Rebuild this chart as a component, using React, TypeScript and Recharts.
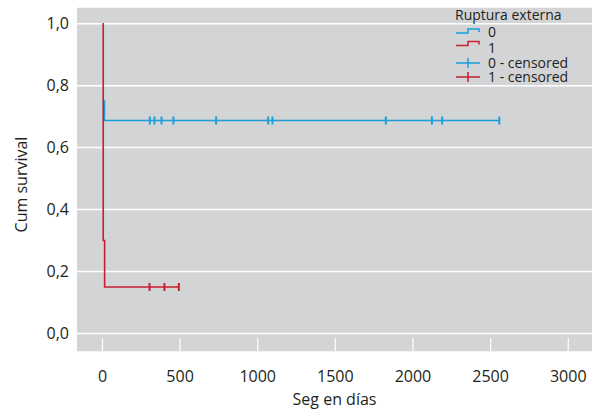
import { CartesianGrid, ComposedChart, Legend, Line, Scatter, XAxis, YAxis } from 'recharts'

const BLUE = '#1a9fdb'
const RED = '#c6202f'
const TEXT = '#231f20'
const FONT = '"Open Sans", sans-serif'

// Kaplan-Meier steps, Ruptura externa = 0
const g0Days = [0, 13, 2556]
const g0Surv = [0.75, 0.6875, 0.6875]
const g0Censored = [305, 335, 380, 457, 732, 1067, 1095, 1825, 2122, 2188, 2556]

// Ruptura externa = 1
const g1Days = [0, 5, 14, 492]
const g1Surv = [1, 0.3, 0.15, 0.15]
const g1Censored = [303, 399, 492]

const xTicks = [0, 500, 1000, 1500, 2000, 2500, 3000]
const yTicks = [0, 0.2, 0.4, 0.6, 0.8, 1.0]

const toSteps = (days: number[], surv: number[]) => days.map((t, i) => ({ t, s: surv[i] }))
const g0Line = toSteps(g0Days, g0Surv)
const g1Line = toSteps(g1Days, g1Surv)
const g0Cens = g0Censored.map((t) => ({ t, s: 0.6875 }))
const g1Cens = g1Censored.map((t) => ({ t, s: 0.15 }))

const censorMark = (color: string) => (props: any) => (
  <line x1={props.cx} x2={props.cx} y1={props.cy - 4} y2={props.cy + 4} stroke={color} strokeWidth={2} />
)

function XTick({ x, y, payload }: any) {
  return (
    <g>
      <line x1={x} x2={x} y1={y - 14} y2={y - 1} stroke="#fff" strokeWidth={1.2} />
      <text x={x} y={y + 24} dy="0.355em" textAnchor="middle" fill={TEXT} fontSize={16} fontFamily={FONT}>
        {payload.value}
      </text>
    </g>
  )
}

function YTitle({ viewBox }: any) {
  const cx = viewBox.x + 21
  const cy = viewBox.y + viewBox.height / 2 + 5
  return (
    <text
      x={cx}
      y={cy}
      dy="0.355em"
      transform={`rotate(-90, ${cx}, ${cy})`}
      textAnchor="middle"
      fill={TEXT}
      fontSize={16}
      fontFamily={FONT}
    >
      Cum survival
    </text>
  )
}

function LegendBox() {
  const txt = { fontSize: 14, fontFamily: FONT, fill: TEXT }
  return (
    <svg width={150} height={90}>
      <text x={5} y={20} {...txt}>Ruptura externa</text>
      <path d="M6,33 H18 V29 H29 V32" fill="none" stroke={BLUE} strokeWidth={1.5} />
      <text x={38} y={37} {...txt}>0</text>
      <path d="M6,45.5 H18 V41.5 H29 V44.5" fill="none" stroke={RED} strokeWidth={1.5} />
      <text x={38} y={52.5} {...txt}>1</text>
      <line x1={6} x2={30} y1={63} y2={63} stroke={BLUE} strokeWidth={1.5} />
      <line x1={18} x2={18} y1={58} y2={68} stroke={BLUE} strokeWidth={1.5} />
      <text x={38} y={67.5} {...txt}>0 - censored</text>
      <line x1={6} x2={30} y1={77} y2={77} stroke={RED} strokeWidth={1.5} />
      <line x1={18} x2={18} y1={72} y2={82} stroke={RED} strokeWidth={1.5} />
      <text x={38} y={82} {...txt}>1 - censored</text>
    </svg>
  )
}

export default function App() {
  return (
    <div style={{ position: 'absolute', left: 0, top: 0, background: '#fff' }}>
      <ComposedChart width={601} height={418} margin={{ top: 7, right: 9, left: 0, bottom: 0 }}>
        <CartesianGrid vertical={false} fill="#d3d4d6" stroke="#fff" strokeWidth={1.5} />
        <XAxis
          type="number"
          dataKey="t"
          domain={[-164, 3153]}
          ticks={xTicks}
          allowDataOverflow
          height={66}
          axisLine={false}
          tickLine={false}
          tickSize={0}
          tickMargin={0}
          tick={<XTick />}
          label={{ value: 'Seg en días', position: 'insideBottom', offset: 13, fill: TEXT, fontSize: 16, fontFamily: FONT }}
        />
        <YAxis
          type="number"
          dataKey="s"
          domain={[-0.06, 1.054]}
          ticks={yTicks}
          allowDataOverflow
          width={77}
          axisLine={false}
          tickLine={false}
          tickSize={0}
          tickMargin={8}
          tickFormatter={(v: number) => v.toFixed(1).replace('.', ',')}
          tick={{ fill: TEXT, fontSize: 16, fontFamily: FONT }}
          label={<YTitle />}
        />
        <Line data={g0Line} dataKey="s" type="stepAfter" stroke={BLUE} strokeWidth={1.6} dot={false} isAnimationActive={false} />
        <Line data={g1Line} dataKey="s" type="stepAfter" stroke={RED} strokeWidth={1.6} dot={false} isAnimationActive={false} />
        <Scatter data={g0Cens} dataKey="s" shape={censorMark(BLUE)} isAnimationActive={false} />
        <Scatter data={g1Cens} dataKey="s" shape={censorMark(RED)} isAnimationActive={false} />
        <Legend
          layout="vertical"
          align="center"
          verticalAlign="middle"
          content={() => <LegendBox />}
          wrapperStyle={{ top: 0, left: 450, width: 150, height: 90 }}
        />
      </ComposedChart>
    </div>
  )
}
